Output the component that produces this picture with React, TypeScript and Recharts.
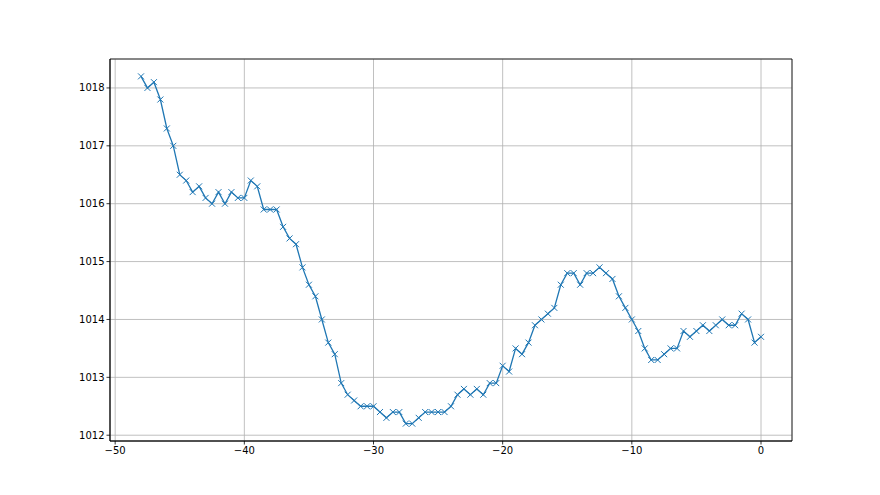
import { LineChart, Line, XAxis, YAxis, CartesianGrid, ReferenceArea } from 'recharts';

const hours = [
  -48, -47.5, -47, -46.5, -46, -45.5, -45, -44.5, -44, -43.5, -43, -42.5, -42, -41.5, -41, -40.5,
  -40, -39.5, -39, -38.5, -38, -37.5, -37, -36.5, -36, -35.5, -35, -34.5, -34, -33.5, -33, -32.5,
  -32, -31.5, -31, -30.5, -30, -29.5, -29, -28.5, -28, -27.5, -27, -26.5, -26, -25.5, -25, -24.5,
  -24, -23.5, -23, -22.5, -22, -21.5, -21, -20.5, -20, -19.5, -19, -18.5, -18, -17.5, -17, -16.5,
  -16, -15.5, -15, -14.5, -14, -13.5, -13, -12.5, -12, -11.5, -11, -10.5, -10, -9.5, -9, -8.5,
  -8, -7.5, -7, -6.5, -6, -5.5, -5, -4.5, -4, -3.5, -3, -2.5, -2, -1.5, -1, -0.5, 0,
];

const pressure = [
  1018.2, 1018.0, 1018.1, 1017.8, 1017.3, 1017.0, 1016.5, 1016.4, 1016.2, 1016.3, 1016.1, 1016.0, 1016.2, 1016.0, 1016.2, 1016.1,
  1016.1, 1016.4, 1016.3, 1015.9, 1015.9, 1015.9, 1015.6, 1015.4, 1015.3, 1014.9, 1014.6, 1014.4, 1014.0, 1013.6, 1013.4, 1012.9,
  1012.7, 1012.6, 1012.5, 1012.5, 1012.5, 1012.4, 1012.3, 1012.4, 1012.4, 1012.2, 1012.2, 1012.3, 1012.4, 1012.4, 1012.4, 1012.4,
  1012.5, 1012.7, 1012.8, 1012.7, 1012.8, 1012.7, 1012.9, 1012.9, 1013.2, 1013.1, 1013.5, 1013.4, 1013.6, 1013.9, 1014.0, 1014.1,
  1014.2, 1014.6, 1014.8, 1014.8, 1014.6, 1014.8, 1014.8, 1014.9, 1014.8, 1014.7, 1014.4, 1014.2, 1014.0, 1013.8, 1013.5, 1013.3,
  1013.3, 1013.4, 1013.5, 1013.5, 1013.8, 1013.7, 1013.8, 1013.9, 1013.8, 1013.9, 1014.0, 1013.9, 1013.9, 1014.1, 1014.0, 1013.6, 1013.7,
];

const xTicks = [-50, -40, -30, -20, -10, 0];
const yTicks = [1012, 1013, 1014, 1015, 1016, 1017, 1018];

const data = hours.map((h, i) => ({ hour: h, value: pressure[i] }));

const fmt = (v: number) => (v < 0 ? '\u2212' + Math.abs(v) : String(v));

const XMarker = (props: any) => {
  const { cx, cy } = props;
  if (cx == null || cy == null) return null;
  const s = 3;
  return (
    <path
      key={props.index}
      d={`M${cx - s},${cy - s}L${cx + s},${cy + s}M${cx - s},${cy + s}L${cx + s},${cy - s}`}
      stroke="#1f77b4"
      strokeWidth={1}
      fill="none"
    />
  );
};

const tickStyle = { fill: '#000', fontSize: 10, fontFamily: 'DejaVu Sans' };

export default function App() {
  return (
    <div style={{ position: 'absolute', left: 0, top: 0, width: 880, height: 495, background: '#fff' }}>
      <LineChart width={880} height={495} data={data} margin={{ top: 59, right: 88, left: 60, bottom: 24 }}>
        <CartesianGrid stroke="#b0b0b0" strokeWidth={0.8} />
        <XAxis
          dataKey="hour"
          type="number"
          domain={[-50.4, 2.4]}
          ticks={xTicks}
          tickFormatter={fmt}
          tick={tickStyle}
          tickSize={3.5}
          tickLine={{ stroke: '#000', strokeWidth: 0.8 }}
          axisLine={{ stroke: '#000', strokeWidth: 0.8 }}
          height={30}
          allowDataOverflow
        />
        <YAxis
          type="number"
          domain={[1011.9, 1018.5]}
          ticks={yTicks}
          tick={tickStyle}
          tickSize={3.5}
          tickLine={{ stroke: '#000', strokeWidth: 0.8 }}
          axisLine={{ stroke: '#000', strokeWidth: 0.8 }}
          width={50}
          allowDataOverflow
        />
        <ReferenceArea x1={-50.4} x2={2.4} y1={1011.9} y2={1018.5} fill="none" stroke="#000" strokeWidth={0.8} />
        <Line
          dataKey="value"
          stroke="#1f77b4"
          strokeWidth={1.3}
          dot={XMarker}
          activeDot={false}
          isAnimationActive={false}
        />
      </LineChart>
    </div>
  );
}
